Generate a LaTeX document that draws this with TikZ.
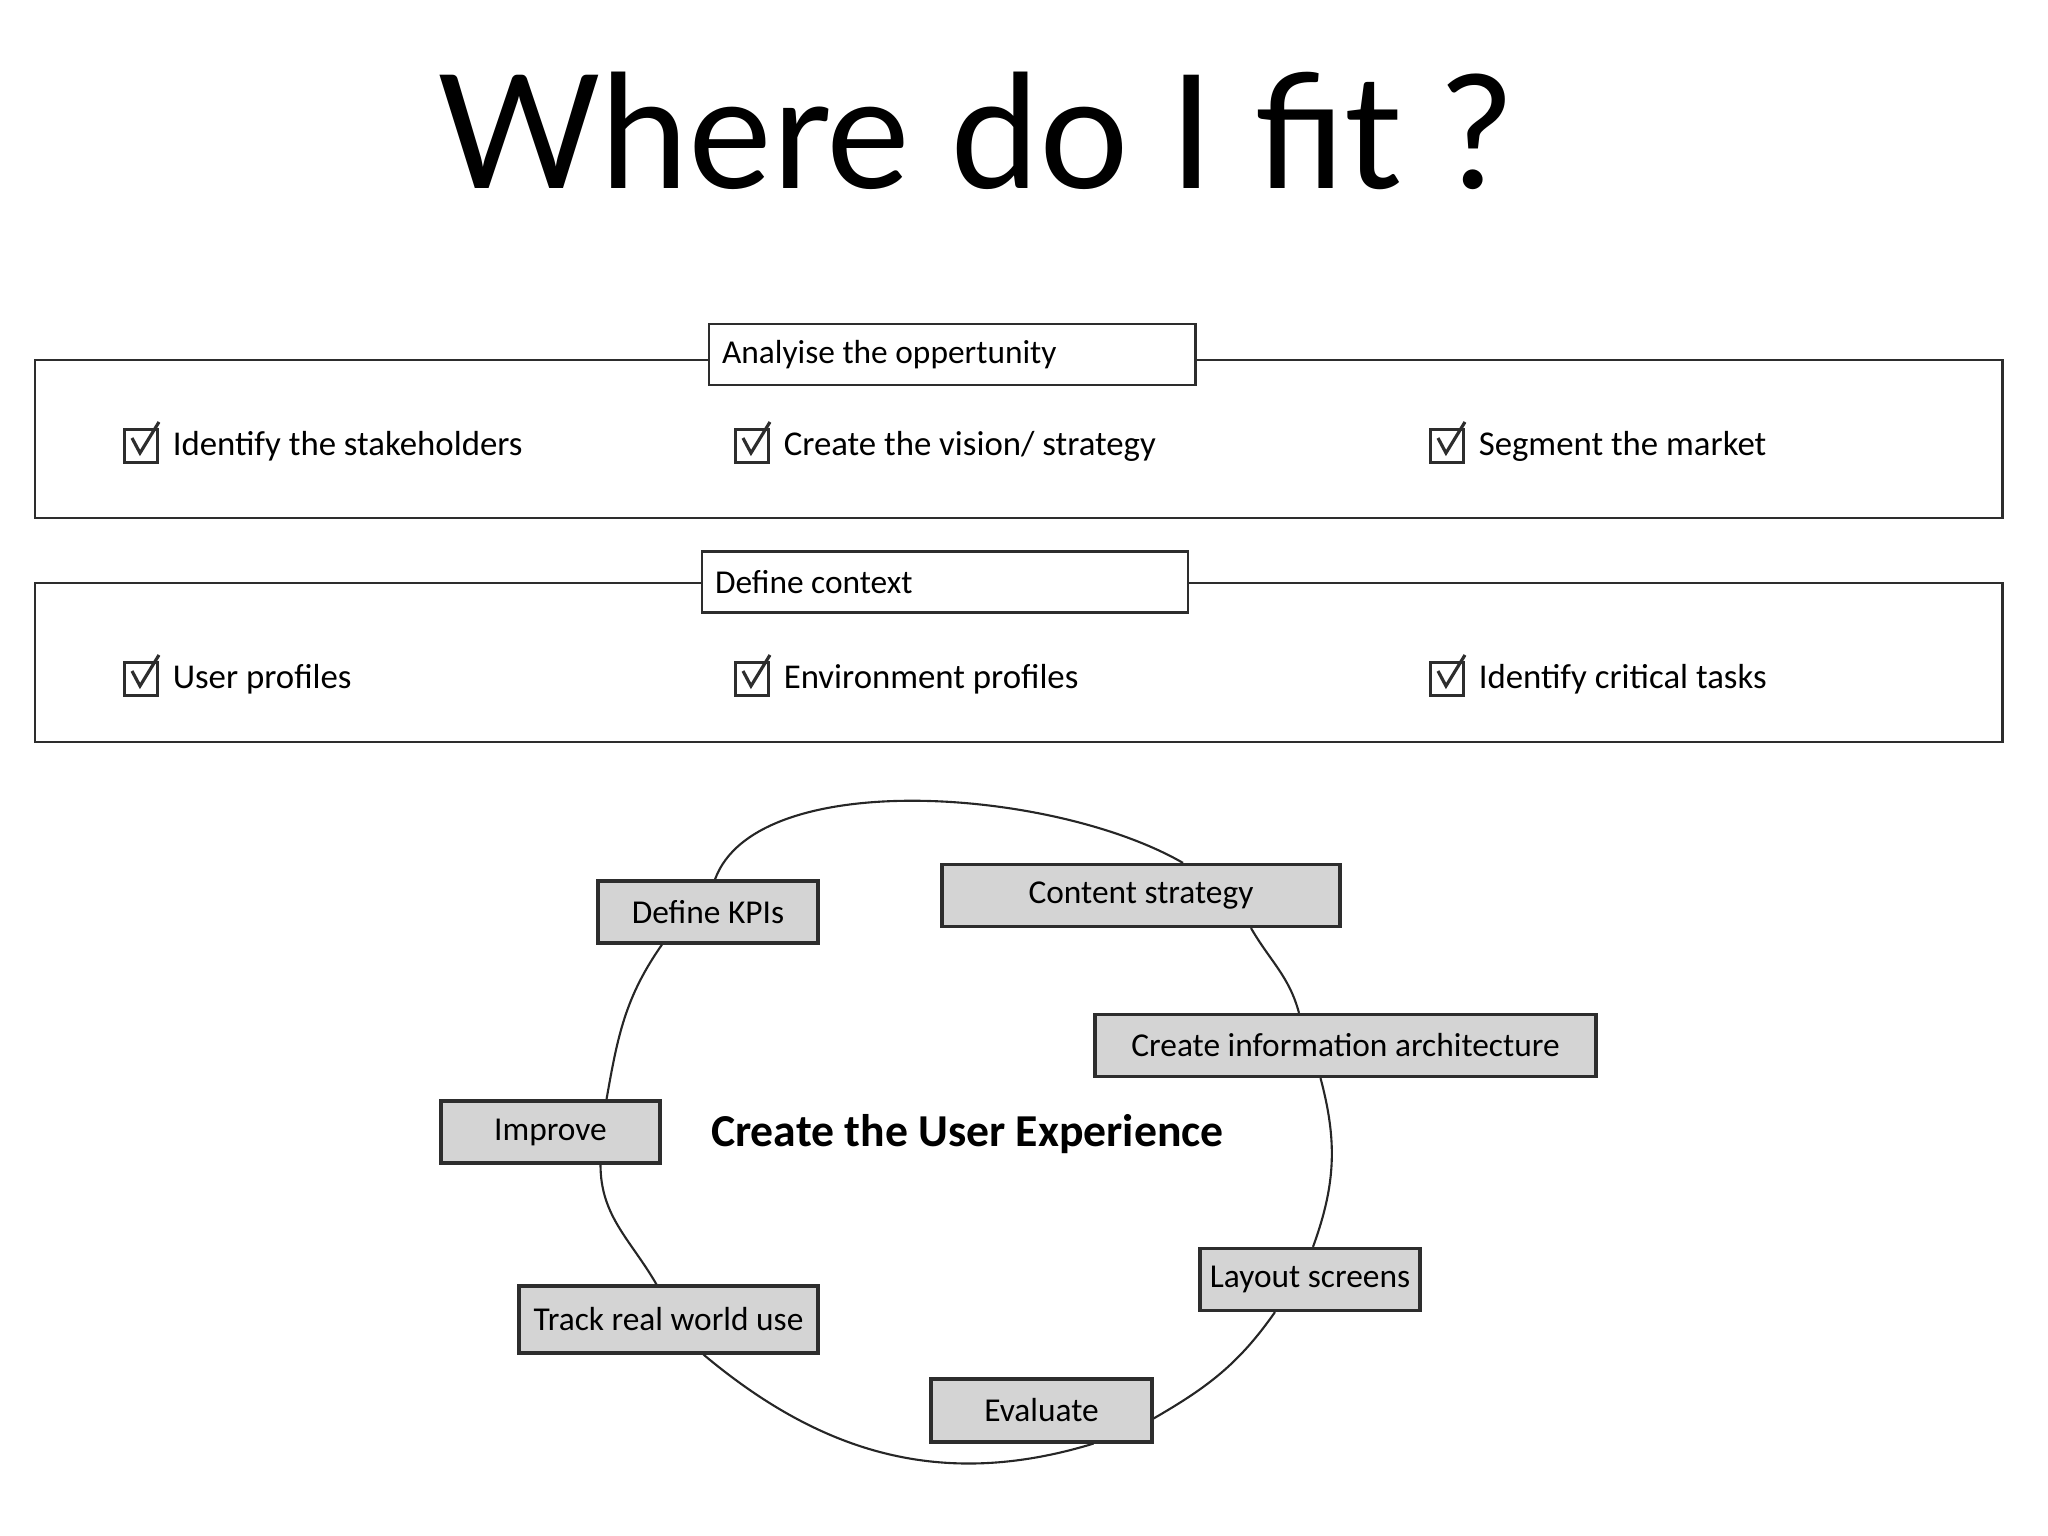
\documentclass[tikz,border=0pt]{standalone}
\usepackage{fontspec}
\setmainfont{Carlito}
\newfontfamily\titlefont{Lato}
\usetikzlibrary{positioning}
\definecolor{boxgray}{RGB}{212,212,212}
\definecolor{inkgray}{RGB}{45,45,45}

\begin{document}
\begin{tikzpicture}[font=\fontsize{9.5}{11}\selectfont,
    panel/.style={rectangle, draw=inkgray, line width=0.85pt, minimum width=19.67cm},
    tab/.style={rectangle, draw=inkgray, line width=0.85pt, fill=white, minimum height=0.61cm,
                text width=4.6cm, inner xsep=0.13cm, align=flush left},
    cbox/.style={rectangle, draw=inkgray, line width=0.9pt, minimum size=0.33cm, inner sep=0pt},
    tick/.style={line width=0.9pt, inkgray},
    item/.style={inner sep=0pt, font=\fontsize{9.9}{11}\selectfont},
    stage/.style={rectangle, draw=inkgray, line width=0.9pt, fill=boxgray, minimum height=0.62cm, inner sep=2pt},
    loop/.style={line width=0.6pt, black!85}]
\useasboundingbox (0,0) rectangle (20.48,-15.36);

% title
\node[font=\titlefont\fontsize{45}{50}\selectfont, anchor=base] (title) at (9.75,-1.89) {Where do I fit ?};

% the two phase panels
\node[panel, minimum height=1.58cm] (opp) at (10.185,-4.39) {};
\node[tab] (opptab) at (9.52,-3.545) {Analyise the oppertunity};
\node[panel, minimum height=1.59cm] (ctx) at (10.185,-6.625) {};
\node[tab] (ctxtab) at (9.45,-5.82) {Define context};

% checklist items
\foreach \n/\xp/\yp/\txt in {1/1.41/-4.46/Identify the stakeholders, 2/7.52/-4.46/{Create the vision/ strategy},
    3/14.47/-4.46/Segment the market, 4/1.41/-6.79/User profiles, 5/7.52/-6.79/Environment profiles,
    6/14.47/-6.79/Identify critical tasks} {
    \node[cbox] (cb\n) at (\xp,\yp) {};
    \draw[tick] ([shift={(-0.09,0.08)}]cb\n.center) -- ([shift={(-0.01,-0.07)}]cb\n.center)
        -- ([shift={(0.18,0.24)}]cb\n.center);
    \node[item, right=0.13cm of cb\n] (it\n) {\txt};
}

% the user experience cycle
\node[stage, minimum width=2.20cm] (kpi) at (7.08,-9.12) {Define KPIs};
\node[stage, minimum width=3.98cm] (content) at (11.41,-8.955) {Content strategy};
\node[stage, minimum width=5.01cm] (cia) at (13.455,-10.455) {Create information architecture};
\node[stage, minimum width=2.19cm] (improve) at (5.505,-11.32) {Improve};
\node[stage, minimum width=2.99cm, minimum height=0.67cm] (track) at (6.685,-13.195) {Track real world use};
\node[stage, minimum width=2.20cm] (layout) at (13.10,-12.795) {Layout screens};
\node[stage, minimum width=2.21cm, minimum height=0.63cm] (eval) at (10.415,-14.105) {Evaluate};
\node[font=\bfseries\fontsize{13}{15}\selectfont] (ux) at (9.675,-11.34) {Create the User Experience};

\draw[loop] ([xshift=0.07cm]kpi.north) .. controls +(70:1.2) and +(150:1.5) .. ([xshift=0.42cm]content.north);
\draw[loop] ([xshift=1.1cm]content.south) to[out=-60,in=105] ([xshift=-0.465cm]cia.north);
\draw[loop] ([xshift=-0.25cm]cia.south) to[out=-75,in=70] ([xshift=0.03cm]layout.north);
\draw[loop] ([xshift=-0.35cm]layout.south) to[out=-125,in=30] ([yshift=-0.08cm]eval.east);
\draw[loop] ([xshift=0.52cm]eval.south) to[out=-163,in=-40] ([xshift=0.35cm]track.south);
\draw[loop] ([xshift=-0.12cm]track.north) to[out=120,in=-90] ([xshift=0.5cm]improve.south);
\draw[loop] ([xshift=0.56cm]improve.north) to[out=80,in=-125] ([xshift=-0.46cm]kpi.south);
\end{tikzpicture}
\end{document}
